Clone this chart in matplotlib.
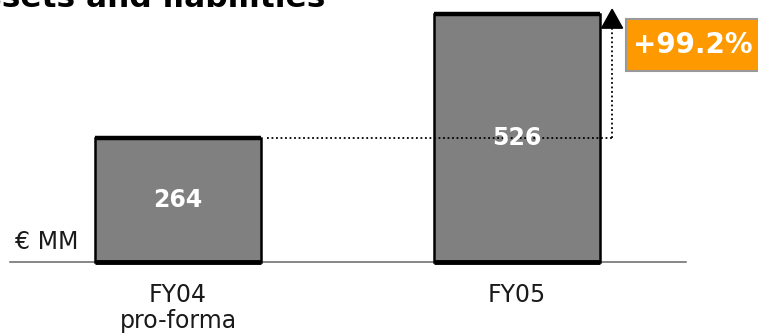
import matplotlib.pyplot as plt
from matplotlib.patches import Rectangle

# values in EUR million
categories = ['FY04\npro-forma', 'FY05']
values = [264, 526]
unit_label = '€ MM'
title = 'Assets and liabilities'

bar_color = '#808080'
growth_color = '#FF9900'

fig = plt.figure(figsize=(7.58, 3.35), dpi=100)
ax = fig.add_axes([0, 0, 1, 1])
ax.set_xlim(-0.526, 1.713)
ax.set_ylim(-154.8, 555.7)
ax.axis('off')

x = list(range(len(values)))
width = 0.49

# baseline
ax.plot([-0.496, 1.501], [0, 0], color='#666666', lw=1.1, zorder=1)

bars = ax.bar(x, values, width=width, color=bar_color, edgecolor='black',
              linewidth=1.8, zorder=2)
for xi, v in zip(x, values):
    ax.plot([xi - width / 2, xi + width / 2], [v, v], color='black', lw=3.2,
            solid_capstyle='butt', zorder=3)
    ax.plot([xi - width / 2, xi + width / 2], [0, 0], color='black', lw=3.5,
            solid_capstyle='butt', zorder=3)
    ax.text(xi, v / 2, str(v), ha='center', va='center', color='white',
            fontsize=17, fontweight='bold', zorder=5)

for xi, cat in zip(x, categories):
    ax.text(xi, -44, cat, ha='center', va='top', color='#1a1a1a',
            fontsize=17, linespacing=1.12)

ax.text(-0.481, 42, unit_label, ha='left', va='center', color='#1a1a1a',
        fontsize=17)

# growth connector from FY04 level up to FY05
arrow_x = 1.282
ax.plot([width / 2 + 0.018, arrow_x], [values[0], values[0]], color='black',
        lw=1.3, ls=(0, (1, 1.5)), zorder=4)
ax.plot([arrow_x, arrow_x], [values[0], 500], color='black',
        lw=1.3, ls=(0, (1, 1.5)), zorder=4)
ax.fill([arrow_x - 0.031, arrow_x + 0.031, arrow_x],
        [496, 496, 536], color='black', zorder=4)

growth = (values[1] / values[0] - 1) * 100
ax.add_patch(Rectangle((1.3235, 405), 0.5, 110.4, facecolor=growth_color,
                       edgecolor='#999999', lw=1.5, zorder=3))
ax.text(1.5205, 460, f'+{growth:.1f}%', ha='center', va='center',
        color='white', fontsize=20, fontweight='bold', zorder=4)

fig.text(325 / 758, 0.979, title, ha='right', va='baseline',
         fontsize=22.5, fontweight='bold', color='black')

fig.savefig('out.png', dpi=100)
